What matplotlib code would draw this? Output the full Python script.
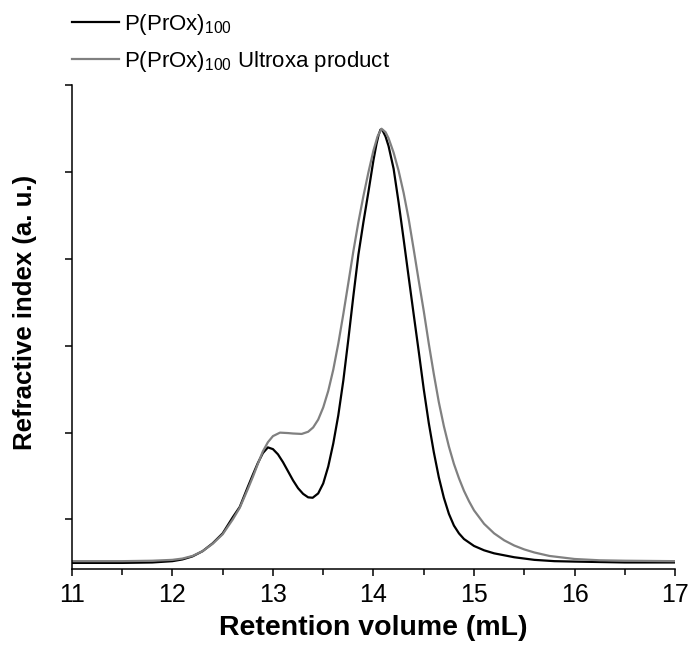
import numpy as np
import matplotlib
matplotlib.use("Agg")
import matplotlib.pyplot as plt

plt.rcParams['font.family'] = ['Liberation Sans', 'DejaVu Sans']
plt.rcParams['mathtext.fontset'] = 'custom'
plt.rcParams['mathtext.rm'] = 'Liberation Sans'
plt.rcParams['mathtext.it'] = 'Liberation Sans:italic'

# P(PrOx)100
x_black = [11.0, 11.5, 11.8, 12.0, 12.1, 12.2, 12.3, 12.4, 12.5, 12.6, 12.67, 12.75,
           12.8, 12.85, 12.9, 12.95, 13.0, 13.05, 13.1, 13.15, 13.2, 13.25, 13.3,
           13.35, 13.395, 13.45, 13.5, 13.55, 13.6, 13.65, 13.7, 13.75, 13.8, 13.85,
           13.9, 13.95, 14.0, 14.03, 14.05, 14.07, 14.09, 14.12, 14.15, 14.2, 14.25,
           14.3, 14.35, 14.4, 14.45, 14.5, 14.55, 14.6, 14.65, 14.7, 14.75, 14.8,
           14.85, 14.9, 15.0, 15.1, 15.2, 15.4, 15.6, 15.8, 16.0, 16.5, 17.0]
y_black = [0.0, 0.0, 0.001, 0.004, 0.008, 0.015, 0.027, 0.045, 0.068, 0.105, 0.129, 0.175,
           0.203, 0.230, 0.253, 0.266, 0.262, 0.250, 0.232, 0.211, 0.190, 0.172, 0.159,
           0.151, 0.150, 0.160, 0.183, 0.222, 0.275, 0.340, 0.420, 0.515, 0.615, 0.710,
           0.785, 0.855, 0.928, 0.965, 0.985, 0.998, 0.996, 0.982, 0.960, 0.908, 0.830,
           0.745, 0.658, 0.572, 0.487, 0.400, 0.322, 0.255, 0.197, 0.150, 0.113, 0.086,
           0.068, 0.055, 0.039, 0.029, 0.022, 0.013, 0.007, 0.004, 0.003, 0.001, 0.001]

# P(PrOx)100 Ultroxa product
x_gray = [11.0, 11.5, 11.8, 12.0, 12.1, 12.2, 12.3, 12.4, 12.5, 12.6, 12.67, 12.75,
          12.8, 12.85, 12.9, 12.95, 13.0, 13.07, 13.15, 13.2, 13.286, 13.35, 13.4,
          13.45, 13.5, 13.55, 13.6, 13.65, 13.7, 13.75, 13.8, 13.85, 13.9, 13.95,
          14.0, 14.04, 14.08, 14.12, 14.15, 14.2, 14.25, 14.3, 14.35, 14.4, 14.45,
          14.5, 14.55, 14.6, 14.65, 14.7, 14.75, 14.8, 14.85, 14.9, 14.95, 15.0,
          15.1, 15.2, 15.3, 15.4, 15.5, 15.6, 15.75, 16.0, 16.25, 16.5, 17.0]
y_gray = [0.004, 0.004, 0.005, 0.007, 0.010, 0.016, 0.027, 0.044, 0.066, 0.100, 0.127, 0.170,
          0.198, 0.228, 0.257, 0.278, 0.292, 0.300, 0.299, 0.298, 0.297, 0.302, 0.312,
          0.330, 0.358, 0.396, 0.445, 0.505, 0.573, 0.645, 0.718, 0.785, 0.845, 0.900,
          0.950, 0.982, 1.0, 0.992, 0.978, 0.945, 0.903, 0.852, 0.792, 0.722, 0.650,
          0.580, 0.505, 0.435, 0.370, 0.315, 0.268, 0.228, 0.195, 0.166, 0.142, 0.121,
          0.090, 0.068, 0.052, 0.040, 0.031, 0.024, 0.016, 0.009, 0.006, 0.005, 0.004]

xticks = [11, 12, 13, 14, 15, 16, 17]
yticks = [0.1, 0.3, 0.5, 0.7, 0.9, 1.1]

fig = plt.figure(figsize=(6.91, 6.51), dpi=100)
ax = fig.add_axes([0.104, 0.126, 0.873, 0.743])

ax.plot(x_black, y_black, color='black', linewidth=1.6, label='P(PrOx)$_{100}$')
ax.plot(x_gray, y_gray, color='#808080', linewidth=1.6, label='P(PrOx)$_{100}$ Ultroxa product')

ax.set_xlim(11, 17)
ax.set_ylim(-0.014, 1.094)
ax.set_xticks(xticks)
ax.set_xticks(np.arange(11.5, 17, 1.0), minor=True)
ax.set_yticks(yticks)
ax.set_yticklabels([])

for side in ['top', 'right']:
    ax.spines[side].set_visible(False)
for side in ['left', 'bottom']:
    ax.spines[side].set_linewidth(1.1)

ax.tick_params(axis='both', which='major', direction='out', length=5, width=1.1, labelsize=18, pad=5)
ax.tick_params(axis='x', which='minor', direction='out', length=4.5, width=1.1)

ax.set_xlabel('Retention volume (mL)', fontsize=20.5, fontweight='bold', labelpad=6)
ax.set_ylabel('Refractive index (a. u.)', fontsize=18.5, fontweight='bold')
ax.yaxis.set_label_coords(-0.058, 0.53)

ax.legend(loc='lower left', bbox_to_anchor=(-0.018, 1.0), frameon=False, fontsize=16,
          handlelength=2.1, handletextpad=0.23, borderpad=0.0, borderaxespad=0.5,
          labelspacing=0.57)

fig.savefig('out.png', dpi=100)
